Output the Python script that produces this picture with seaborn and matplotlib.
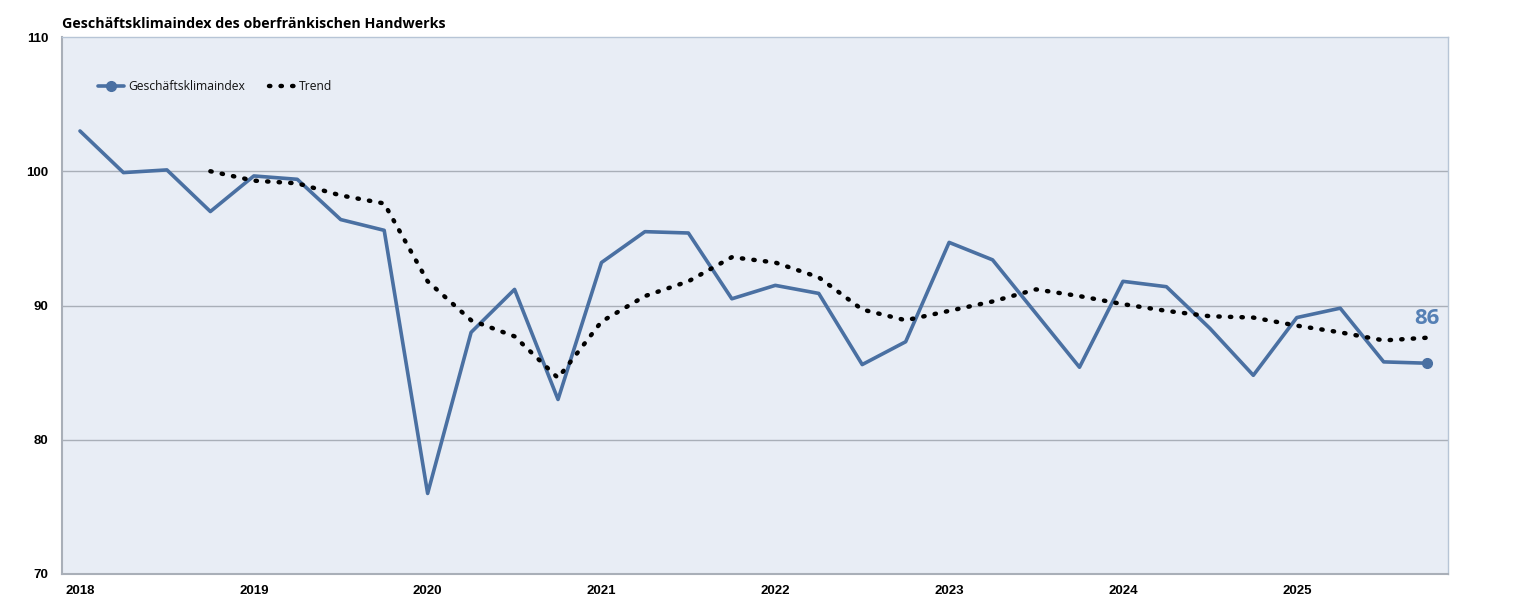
import numpy as np
import pandas as pd
import matplotlib
matplotlib.use("Agg")
import matplotlib.pyplot as plt
from matplotlib.lines import Line2D
import seaborn as sns

# ---- data ----
quarters = list(range(32))  # 2018 Q1 .. 2025 Q4
index_values = [103.0, 99.9, 100.1, 97.0, 99.65, 99.4, 96.4, 95.6,
                76.0, 88.0, 91.2, 83.0, 93.2, 95.5, 95.4, 90.5,
                91.5, 90.9, 85.6, 87.3, 94.7, 93.4, 89.4, 85.4,
                91.8, 91.4, 88.3, 84.8, 89.1, 89.8, 85.8, 85.7]
trend_values = [np.nan, np.nan, np.nan, 100.0, 99.3, 99.1, 98.2, 97.6,
                91.8, 88.9, 87.7, 84.6, 88.8, 90.7, 91.8, 93.6,
                93.2, 92.1, 89.7, 88.9, 89.6, 90.3, 91.2, 90.7,
                90.1, 89.6, 89.2, 89.1, 88.5, 88.0, 87.4, 87.6]
year_labels = ["2018", "2019", "2020", "2021", "2022", "2023", "2024", "2025"]
y_ticks = [70, 80, 90, 100, 110]
last_label = "86"

df = pd.DataFrame({"q": quarters, "index": index_values, "trend": trend_values})

sns.set_theme(style="white")
plt.rcParams["font.family"] = ["Liberation Sans", "DejaVu Sans"]
plt.rcParams["text.color"] = "black"
plt.rcParams["xtick.color"] = "black"
plt.rcParams["ytick.color"] = "black"

blue = "#4A70A2"
fig = plt.figure(figsize=(15.2, 6.15), dpi=100)
ax = fig.add_axes([62 / 1520, 1 - 574 / 615, (1448 - 62) / 1520, (574 - 37) / 615])
ax.set_facecolor("#E8EDF5")

for y in [80, 90, 100]:
    ax.axhline(y, color="#A9AFB8", lw=1.0, zorder=1)

sns.lineplot(data=df, x="q", y="index", ax=ax, color=blue, lw=2.6, zorder=3)
sns.lineplot(data=df.dropna(), x="q", y="trend", ax=ax, color="black",
             lw=3.2, linestyle=(0, (0.3, 2.3)), dash_capstyle="round", zorder=4)
ax.plot(df["q"].iloc[-1], df["index"].iloc[-1], "o", color=blue, ms=7, zorder=5)

ax.text(df["q"].iloc[-1], 89.0, last_label, color="#5580B5", fontsize=16,
        fontweight="bold", ha="center", va="center",
        family=["Open Sans", "DejaVu Sans"])

ax.set_xlim(-0.414, 31.48)
ax.set_ylim(70, 110)
ax.set_xticks(list(range(0, 32, 4)))
ax.set_xticklabels(year_labels, fontsize=9.5, fontweight="bold", color="black")
ax.set_yticks(y_ticks)
ax.set_yticklabels([str(v) for v in y_ticks], fontsize=9.5, fontweight="bold", color="black")
ax.tick_params(axis="x", length=0, pad=8)
ax.tick_params(axis="y", length=0, pad=10)
ax.set_xlabel("")
ax.set_ylabel("")

for side in ["top", "right"]:
    ax.spines[side].set_color("#B7C5D6")
    ax.spines[side].set_linewidth(1.0)
for side in ["left", "bottom"]:
    ax.spines[side].set_color("#A9AFB8")
    ax.spines[side].set_linewidth(1.5)

handles = [
    Line2D([0], [0], color=blue, lw=2.6, marker="o", ms=7, markevery=[1]),
    Line2D([0], [0], color="black", lw=3.2, linestyle=(0, (0.3, 2.3)),
           dash_capstyle="round"),
]
leg = ax.legend(handles, ["Geschäftsklimaindex", "Trend"], loc="center left",
                bbox_to_anchor=(0.018, 0.907), ncol=2, frameon=False,
                handlelength=2.2, columnspacing=2.0, handletextpad=0.3,
                prop={"family": ["Open Sans", "DejaVu Sans"], "size": 8.7})
for t in leg.get_texts():
    t.set_color("#111111")

fig.text(62 / 1520, 1 - 24 / 615, "Geschäftsklimaindex des oberfränkischen Handwerks",
         fontsize=10.3, fontweight="bold", ha="left", va="center", color="black",
         family=["Open Sans", "DejaVu Sans"])

fig.savefig("out.png", dpi=100, facecolor="white")
